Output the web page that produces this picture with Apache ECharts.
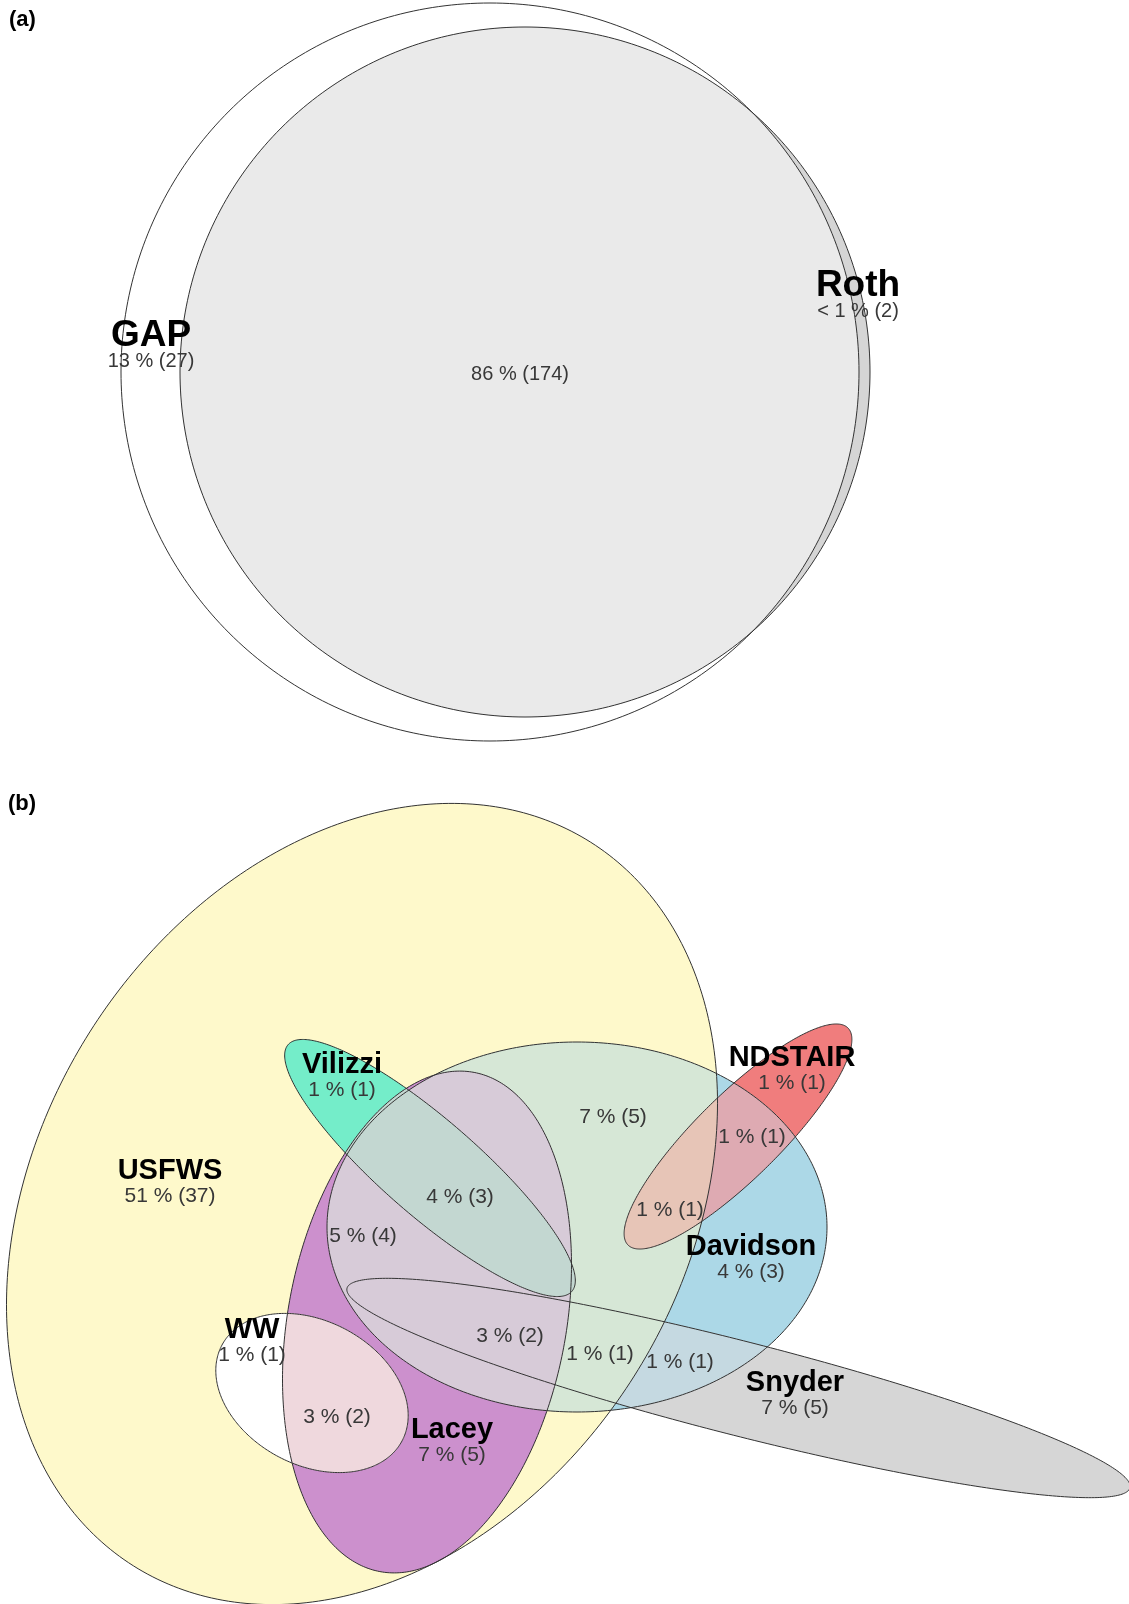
<!DOCTYPE html>
<html>
<head>
<meta charset="utf-8">
<script src="https://cdn.jsdelivr.net/npm/echarts@6/dist/echarts.min.js"></script>
<style>
html,body{margin:0;padding:0;background:#ffffff;}
#chart{width:1129px;height:1604px;}
</style>
</head>
<body>
<div id="chart"></div>
<script>
// ---------------- Panel (a) data ----------------
const setsA = ['GAP', 'Roth'];
const ellCxA = [-0.10, 0.25];
const ellCyA = [0.00, 0.00];
const ellSemiAA = [3.69, 3.45];
const ellSemiBA = [3.69, 3.45];
const ellRotA = [0, 0];
const regionsA = [[0], [1], [0, 1]];
const regionColorsA = ['#FFFFFF', '#D5D5D5', '#EAEAEA'];
const labelNamesA = ['GAP', 'Roth', ''];
const labelValuesA = ['13 % (27)', '< 1 % (2)', '86 % (174)'];
const labelXA = [-3.49, 3.58, 0.20];
const labelYA = [0.11, 0.61, -0.02];

// ---------------- Panel (b) data ----------------
const setsB = ['USFWS', 'Vilizzi', 'NDSTAIR', 'Davidson', 'Snyder', 'Lacey', 'WW'];
const ellCxB = [-2.03, -1.35, 1.73, 0.12, 1.735, -1.38, -2.53];
const ellCyB = [-0.04, 0.32, 0.635, -0.27, -1.88, -1.22, -1.93];
const ellSemiAB = [4.28, 1.88, 1.545, 2.50, 4.04, 2.54, 1.02];
const ellSemiBB = [3.22, 0.48, 0.42, 1.85, 0.47, 1.39, 0.72];
const ellRotB = [57.7, -41, 44.6, 0, -14.3, 79.3, -28];
const regionsB = [
  [0], [1], [2], [3], [4], [5], [6],
  [0, 1], [0, 3], [0, 4], [0, 5], [0, 6], [2, 3], [3, 4], [5, 6], [1, 5],
  [0, 1, 3], [0, 1, 5], [0, 2, 3], [0, 3, 4], [0, 3, 5], [0, 4, 5], [0, 5, 6],
  [0, 1, 3, 5], [0, 3, 4, 5], [0, 1, 3, 4],
  [0, 1, 3, 4, 5]
];
const regionColorsB = [
  '#FEF9CB', '#74EDC9', '#F07D7D', '#ACD8E7', '#D6D6D6', '#CC90CD', '#FFFFFF',
  '#74EDC9', '#D6E7D6', '#E6E4D0', '#CC90CD', '#FFFFFF', '#DEAAB2', '#C5D9E1', '#EFD8DD', '#C3D7D1',
  '#C3D7D1', '#C3D7D1', '#E7C5B7', '#D6E7D6', '#D7CBD8', '#D7CBD8', '#EFD8DD',
  '#C3D7D1', '#D7CBD8', '#C3D7D1',
  '#C3D7D1'
];
const labelNamesB = ['USFWS', 'Vilizzi', 'NDSTAIR', 'Davidson', 'Snyder', 'WW', 'Lacey',
  '', '', '', '', '', '', '', '', ''];
const labelValuesB = ['51 % (37)', '1 % (1)', '1 % (1)', '4 % (3)', '7 % (5)', '1 % (1)', '7 % (5)',
  '7 % (5)', '1 % (1)', '1 % (1)', '4 % (3)', '5 % (4)', '3 % (2)', '1 % (1)', '1 % (1)', '3 % (2)'];
const labelXB = [-3.95, -2.23, 2.27, 1.86, 2.30, -3.13, -1.13,
  0.48, 1.87, 1.05, -1.05, -2.02, -0.55, 0.35, 1.15, -2.28];
const labelYB = [0.04, 1.10, 1.17, -0.72, -2.08, -1.55, -2.55,
  0.83, 0.63, -0.10, 0.03, -0.36, -1.36, -1.54, -1.62, -2.17];

// ---------------- helpers ----------------
const FONT = '"Liberation Sans", Arial, Helvetica, sans-serif';

function ellipsePoints(api, cx, cy, a, b, rotDeg) {
  const n = 360;
  const r = rotDeg * Math.PI / 180, c = Math.cos(r), s = Math.sin(r);
  const pts = [];
  for (let k = 0; k < n; k++) {
    const t = 2 * Math.PI * k / n;
    const ex = a * Math.cos(t), ey = b * Math.sin(t);
    pts.push(api.coord([cx + ex * c - ey * s, cy + ex * s + ey * c]));
  }
  return pts;
}

function clipConvex(subject, clipPoly) {
  const n = clipPoly.length;
  let area = 0;
  for (let i = 0; i < n; i++) {
    const p = clipPoly[i], q = clipPoly[(i + 1) % n];
    area += p[0] * q[1] - q[0] * p[1];
  }
  const sgn = area > 0 ? 1 : -1;
  let output = subject;
  for (let i = 0; i < n && output.length; i++) {
    const A = clipPoly[i], B = clipPoly[(i + 1) % n];
    const a1 = B[0] - A[0], b1 = B[1] - A[1];
    const inside = p => sgn * (a1 * (p[1] - A[1]) - b1 * (p[0] - A[0])) >= 0;
    const inter = (P, Q) => {
      const dx = Q[0] - P[0], dy = Q[1] - P[1];
      const den = a1 * dy - b1 * dx;
      const t = den === 0 ? 0 : (b1 * (P[0] - A[0]) - a1 * (P[1] - A[1])) / den;
      return [P[0] + t * dx, P[1] + t * dy];
    };
    const input = output;
    output = [];
    let S = input[input.length - 1];
    for (const E of input) {
      const ei = inside(E), si = inside(S);
      if (ei) {
        if (!si) output.push(inter(S, E));
        output.push(E);
      } else if (si) {
        output.push(inter(S, E));
      }
      S = E;
    }
  }
  return output;
}

function makePanel(gridIdx, geo, regions, colors, labels, fonts) {
  const order = regions.map((r, i) => i).sort((i, j) => regions[i].length - regions[j].length || i - j);
  const ell = (api, k) => ellipsePoints(api, geo.cx[k], geo.cy[k], geo.a[k], geo.b[k], geo.rot[k]);
  const fills = {
    type: 'custom', coordinateSystem: 'cartesian2d', xAxisIndex: gridIdx, yAxisIndex: gridIdx,
    z: 1, silent: true, clip: false,
    data: order.map(() => [0, 0]),
    renderItem: function (params, api) {
      const ri = order[params.dataIndex];
      const combo = regions[ri];
      let poly = ell(api, combo[0]);
      for (let m = 1; m < combo.length; m++) poly = clipConvex(poly, ell(api, combo[m]));
      if (poly.length < 3) return null;
      return { type: 'polygon', shape: { points: poly }, style: { fill: colors[ri] } };
    }
  };
  const outlines = {
    type: 'custom', coordinateSystem: 'cartesian2d', xAxisIndex: gridIdx, yAxisIndex: gridIdx,
    z: 2, silent: true, clip: false,
    data: geo.cx.map(() => [0, 0]),
    renderItem: function (params, api) {
      return { type: 'polygon', shape: { points: ell(api, params.dataIndex) },
        style: { fill: 'none', stroke: '#333333', lineWidth: 1 } };
    }
  };
  const texts = {
    type: 'custom', coordinateSystem: 'cartesian2d', xAxisIndex: gridIdx, yAxisIndex: gridIdx,
    z: 3, silent: true, clip: false,
    data: labels.x.map(() => [0, 0]),
    renderItem: function (params, api) {
      const i = params.dataIndex;
      const p = api.coord([labels.x[i], labels.y[i]]);
      const children = [{
        type: 'text', x: p[0], y: p[1],
        style: { text: labels.values[i], font: fonts.value, fill: '#383838',
          align: 'center', verticalAlign: 'middle', textAlign: 'center', textVerticalAlign: 'middle' }
      }];
      if (labels.names[i]) {
        children.push({
          type: 'text', x: p[0], y: p[1] - fonts.gap,
          style: { text: labels.names[i], font: fonts.name, fill: '#000000',
            align: 'center', verticalAlign: 'middle', textAlign: 'center', textVerticalAlign: 'middle' }
        });
      }
      return { type: 'group', children: children };
    }
  };
  return [fills, outlines, texts];
}

const chart = echarts.init(document.getElementById('chart'), null, { renderer: 'canvas', width: 1129, height: 1604 });

const seriesA = makePanel(0,
  { cx: ellCxA, cy: ellCyA, a: ellSemiAA, b: ellSemiBA, rot: ellRotA },
  regionsA, regionColorsA,
  { names: labelNamesA, values: labelValuesA, x: labelXA, y: labelYA },
  { name: 'bold 37px ' + FONT, value: '20px ' + FONT, gap: 25 });
const seriesB = makePanel(1,
  { cx: ellCxB, cy: ellCyB, a: ellSemiAB, b: ellSemiBB, rot: ellRotB },
  regionsB, regionColorsB,
  { names: labelNamesB, values: labelValuesB, x: labelXB, y: labelYB },
  { name: 'bold 29px ' + FONT, value: '21px ' + FONT, gap: 25 });

chart.setOption({
  animation: false,
  backgroundColor: '#ffffff',
  title: [
    { text: '(a)', left: 4, top: 4, padding: 5, textStyle: { fontSize: 22, fontWeight: 'bold', color: '#000', fontFamily: FONT } },
    { text: '(b)', left: 3, top: 788, padding: 5, textStyle: { fontSize: 22, fontWeight: 'bold', color: '#000', fontFamily: FONT } }
  ],
  grid: [
    { left: 0, top: 0, width: 1129, height: 760 },
    { left: 0, top: 780, width: 1129, height: 824 }
  ],
  xAxis: [
    { gridIndex: 0, type: 'value', min: -5.00, max: 6.29, show: false, splitLine: { show: false } },
    { gridIndex: 1, type: 'value', min: -5.65, max: 5.64, show: false, splitLine: { show: false } }
  ],
  yAxis: [
    { gridIndex: 0, type: 'value', min: -3.88, max: 3.72, show: false, splitLine: { show: false } },
    { gridIndex: 1, type: 'value', min: -4.04, max: 4.20, show: false, splitLine: { show: false } }
  ],
  series: seriesA.concat(seriesB)
});
</script>
</body>
</html>
